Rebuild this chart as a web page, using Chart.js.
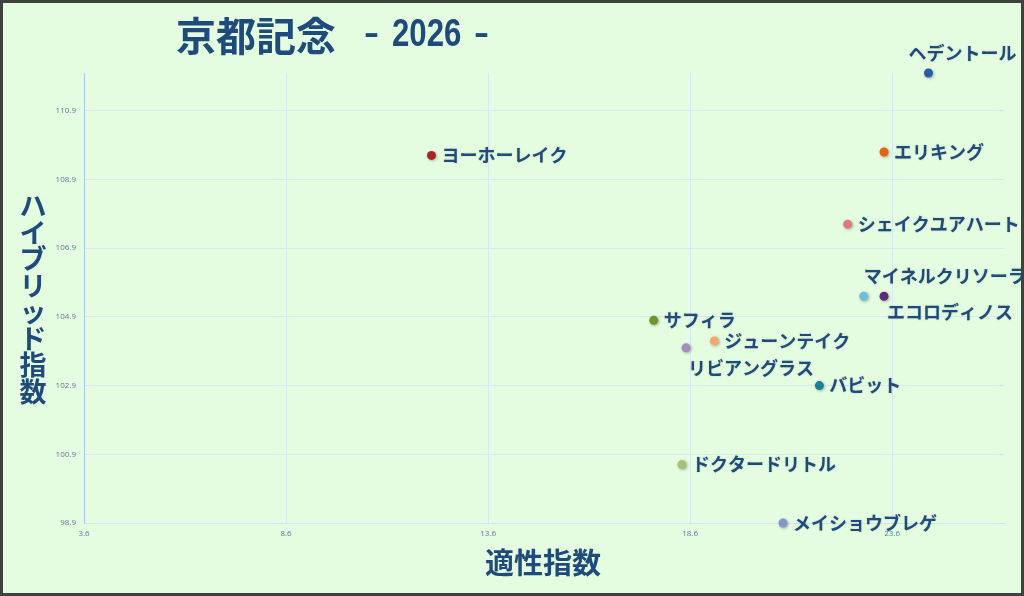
<!DOCTYPE html>
<html lang="ja">
<head>
<meta charset="utf-8">
<title>京都記念 - 2026 -</title>
<script src="https://cdn.jsdelivr.net/npm/chart.js@4.4.1/dist/chart.umd.min.js"></script>
<style>
    html, body { margin: 0; padding: 0; background: #e4fde1; }
    #wrap { width: 1024px; height: 596px; position: relative; }
</style>
</head>
<body>
<div id="wrap"><canvas id="chart" width="1024" height="596"></canvas></div>
<script>
// Horses and their two indices
const horses = ['ヘデントール', 'エリキング', 'ヨーホーレイク', 'シェイクユアハート', 'マイネルクリソーラ', 'エコロディノス',
    'サフィラ', 'ジューンテイク', 'リビアングラス', 'バビット', 'ドクタードリトル', 'メイショウブレゲ'];
const aptitude = [24.5, 23.4, 12.2, 22.5, 22.9, 23.4, 17.7, 19.2, 18.5, 21.8, 18.4, 20.9];
const hybrid = [112.0, 109.7, 109.6, 107.6, 105.5, 105.5, 104.8, 104.2, 104.0, 102.9, 100.6, 98.9];
const pointColors = ['#2a5ba8', '#e8620f', '#a82424', '#e07a78', '#6fbfdc', '#5a2d78',
    '#6f9428', '#f4a870', '#a88cc0', '#1a8098', '#a8c070', '#8098c8'];

const xTicks = [3.6, 8.6, 13.6, 18.6, 23.6];
const yTicks = [98.9, 100.9, 102.9, 104.9, 106.9, 108.9, 110.9];

const NAVY = '#1f4a7c';

// labels that don't sit to the right of their point
const labelOffset = {
    'ヘデントール': { dx: -20, dy: -20 },
    'マイネルクリソーラ': { dx: 0, dy: -20 },
    'エコロディノス': { dx: 3, dy: 16 },
    'リビアングラス': { dx: 2, dy: 20 }
};

// condensed text by squeezing a normal face
function narrowText(ctx, text, x, y, squeeze) {
    ctx.save();
    ctx.translate(x, y);
    ctx.scale(squeeze, 1);
    ctx.fillText(text, 0, 0);
    ctx.restore();
}

const decorPlugin = {
    id: 'decor',
    beforeDraw(chart) {
        const ctx = chart.ctx;
        ctx.save();
        ctx.fillStyle = '#e4fde1';
        ctx.fillRect(0, 0, chart.width, chart.height);
        ctx.restore();
    },
    beforeDatasetDraw(chart) {
        const ctx = chart.ctx;
        ctx.save();
        ctx.shadowColor = 'rgba(0, 0, 0, 0.3)';
        ctx.shadowBlur = 3;
        ctx.shadowOffsetX = 1;
        ctx.shadowOffsetY = 1;
    },
    afterDatasetDraw(chart) {
        chart.ctx.restore();
    },
    afterDraw(chart) {
        const ctx = chart.ctx;
        const meta = chart.getDatasetMeta(0);
        ctx.save();

        // point labels
        ctx.font = "bold 18px 'Noto Sans CJK JP', sans-serif";
        ctx.fillStyle = NAVY;
        ctx.textBaseline = 'middle';
        ctx.textAlign = 'left';
        ctx.shadowColor = 'rgba(0, 0, 0, 0.2)';
        ctx.shadowBlur = 2;
        meta.data.forEach((pt, i) => {
            const off = labelOffset[horses[i]] || { dx: 10, dy: 0 };
            ctx.fillText(horses[i], pt.x + off.dx, pt.y + off.dy);
        });
        ctx.shadowColor = 'transparent';
        ctx.shadowBlur = 0;

        // title
        ctx.font = "bold 40px 'Noto Sans CJK JP', sans-serif";
        ctx.fillText('京都記念', 176, 36);
        ctx.font = "bold 39px 'Liberation Sans', sans-serif";
        narrowText(ctx, '–', 365, 35, 0.6);
        narrowText(ctx, '2026', 392, 35, 0.8);
        narrowText(ctx, '–', 475, 35, 0.6);

        // axis titles
        ctx.font = "bold 29px 'Noto Sans CJK JP', sans-serif";
        ctx.textAlign = 'center';
        ctx.fillText('適性指数', 543, 563);
        ctx.font = "bold 27px 'Noto Sans CJK JP', sans-serif";
        const yTitle = 'ハイブリッド指数';
        [...yTitle].forEach((ch, i) => {
            ctx.fillText(ch, 33, 206 + i * 26.5);
        });

        // outer frame
        ctx.strokeStyle = '#3c433c';
        ctx.lineWidth = 3;
        ctx.strokeRect(1.5, 1.5, chart.width - 3, chart.height - 3);
        ctx.restore();
    }
};

new Chart(document.getElementById('chart'), {
    type: 'scatter',
    data: {
        datasets: [{
            data: horses.map((h, i) => ({ x: aptitude[i], y: hybrid[i] })),
            pointBackgroundColor: pointColors,
            pointBorderWidth: 0,
            pointRadius: 4.5,
            pointHoverRadius: 4.5,
            clip: false
        }]
    },
    options: {
        responsive: false,
        animation: false,
        devicePixelRatio: 1,
        layout: { padding: { top: 73, right: 20, left: 0, bottom: 0 } },
        plugins: {
            legend: { display: false },
            tooltip: { enabled: false }
        },
        scales: {
            x: {
                type: 'linear',
                min: 3.6,
                max: 26.37,
                afterBuildTicks: s => { s.ticks = xTicks.map(v => ({ value: v })); },
                afterFit: s => { s.height = 73; },
                grid: { color: '#d8e8f0', drawTicks: false },
                border: { color: '#cfe3f2' },
                ticks: {
                    color: '#5b7a9a',
                    font: { size: 8, family: "'Open Sans', sans-serif" },
                    padding: 6,
                    callback: v => v.toFixed(1)
                }
            },
            y: {
                type: 'linear',
                min: 98.9,
                max: 112.0,
                afterBuildTicks: s => { s.ticks = yTicks.map(v => ({ value: v })); },
                afterFit: s => { s.width = 84; },
                grid: { color: '#d8e8f0', drawTicks: false },
                border: { color: '#a9c6f0' },
                ticks: {
                    color: '#5b7a9a',
                    font: { size: 8, family: "'Open Sans', sans-serif" },
                    padding: 8,
                    callback: v => v.toFixed(1)
                }
            }
        }
    },
    plugins: [decorPlugin]
});
</script>
</body>
</html>
